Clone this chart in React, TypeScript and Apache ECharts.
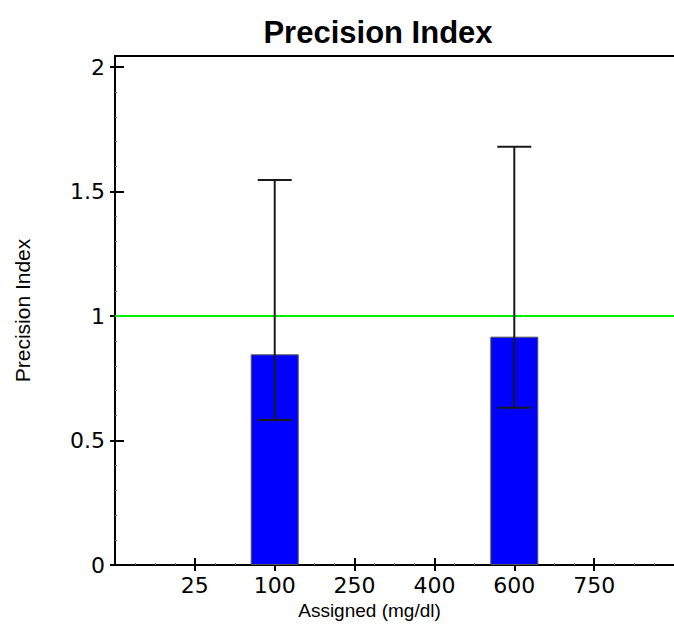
import React, { useEffect, useRef } from "react";
import * as echarts from "echarts";

// Data
const categories = ["25", "100", "250", "400", "600", "750"];
const precisionIndex = [null, 0.846, null, null, 0.917, null];
const lowerLimit = [null, 0.582, null, null, 0.632, null];
const upperLimit = [null, 1.546, null, null, 1.68, null];
const referenceLevel = 1;
const yTicks = [0, 0.5, 1, 1.5, 2];

export default function App() {
  const ref = useRef<HTMLDivElement>(null);

  useEffect(() => {
    if (!ref.current) return;
    const chart = echarts.init(ref.current, null, { renderer: "svg" });

    const barData: any[] = [];
    const errData: any[] = [];
    categories.forEach((_, i) => {
      const v = precisionIndex[i];
      if (v !== null) {
        barData.push([i + 1, v]);
        errData.push([i + 1, lowerLimit[i], upperLimit[i]]);
      }
    });
    const xPos = categories.map((_, i) => i + 1);

    const tickFont = { fontFamily: "DejaVu Sans", fontSize: 22, color: "#000" };
    const axisStroke = { color: "#000", width: 2 };

    const option: any = {
      animation: false,
      backgroundColor: "#fff",
      title: {
        text: "Precision Index",
        left: 373,
        textAlign: "center",
        top: 12,
        textStyle: { fontFamily: "Arial", fontWeight: "bold", fontSize: 31, color: "#000" },
      },
      grid: { left: 115, top: 56, width: 560, height: 509, containLabel: false },
      xAxis: [
        {
          type: "value",
          min: 0,
          max: 7,
          interval: 1,
          position: "bottom",
          name: "Assigned (mg/dl)",
          nameLocation: "middle",
          nameGap: 32,
          nameTextStyle: { fontFamily: "Arial", fontSize: 19, color: "#000", padding: [0, 50, 0, 0] },
          axisLine: { show: true, onZero: false, lineStyle: axisStroke },
          axisTick: { show: true, inside: true, length: 7, customValues: xPos, lineStyle: axisStroke },
          minorTick: { show: true, splitNumber: 4, length: 2, lineStyle: { color: "#666", width: 1 } },
          axisLabel: {
            ...tickFont,
            margin: 9,
            customValues: xPos,
            formatter: (v: number) => categories[Math.round(v) - 1] ?? "",
          },
          splitLine: { show: false },
        },
        {
          type: "value",
          min: 0,
          max: 7,
          interval: 1,
          position: "bottom",
          axisLine: { show: true, onZero: false, lineStyle: axisStroke },
          axisTick: { show: true, inside: false, length: 6, customValues: xPos, lineStyle: axisStroke },
          axisLabel: { show: false },
          splitLine: { show: false },
        },
        {
          type: "value",
          min: 0,
          max: 7,
          position: "top",
          axisLine: { show: true, onZero: false, lineStyle: axisStroke },
          axisTick: { show: false },
          axisLabel: { show: false },
          splitLine: { show: false },
        },
      ],
      yAxis: [
        {
          type: "value",
          min: 0,
          max: 2.0442,
          interval: 0.5,
          position: "left",
          name: "Precision Index",
          nameLocation: "middle",
          nameGap: 82,
          nameTextStyle: { fontFamily: "Arial", fontSize: 21, color: "#000" },
          axisLine: { show: true, onZero: false, lineStyle: axisStroke },
          axisTick: { show: true, inside: true, length: 9, customValues: yTicks, lineStyle: axisStroke },
          minorTick: { show: true, splitNumber: 5, length: 2, lineStyle: { color: "#666", width: 1 } },
          axisLabel: {
            ...tickFont,
            margin: 10,
            customValues: yTicks,
            formatter: (v: number) => String(v),
          },
          splitLine: { show: false },
        },
        {
          type: "value",
          min: 0,
          max: 2.0442,
          interval: 0.5,
          position: "left",
          axisLine: { show: true, onZero: false, lineStyle: axisStroke },
          axisTick: { show: true, inside: false, length: 5, customValues: yTicks, lineStyle: axisStroke },
          axisLabel: { show: false },
          splitLine: { show: false },
        },
      ],
      series: [
        {
          type: "bar",
          xAxisIndex: 0,
          yAxisIndex: 0,
          data: barData,
          barWidth: 48,
          itemStyle: { color: "#0000ff", borderColor: "#555", borderWidth: 1 },
          markLine: {
            silent: true,
            symbol: "none",
            label: { show: false },
            lineStyle: { color: "#00ee00", width: 2, type: "solid" },
            data: [{ yAxis: referenceLevel }],
            z: 3,
          },
          z: 2,
        },
        {
          type: "custom",
          xAxisIndex: 0,
          yAxisIndex: 0,
          data: errData,
          z: 5,
          renderItem: (params: any, api: any) => {
            const x = api.value(0);
            const lo = api.coord([x, api.value(1)]);
            const hi = api.coord([x, api.value(2)]);
            const hw = 17;
            const style = { stroke: "#1a1a1a", lineWidth: 2 };
            return {
              type: "group",
              children: [
                { type: "line", shape: { x1: lo[0], y1: lo[1], x2: hi[0], y2: hi[1] }, style },
                { type: "line", shape: { x1: lo[0] - hw, y1: lo[1], x2: lo[0] + hw, y2: lo[1] }, style },
                { type: "line", shape: { x1: hi[0] - hw, y1: hi[1], x2: hi[0] + hw, y2: hi[1] }, style },
              ],
            };
          },
        },
      ],
    };

    chart.setOption(option);
    return () => chart.dispose();
  }, []);

  return (
    <div
      ref={ref}
      style={{ position: "fixed", left: 0, top: 0, width: 674, height: 628, background: "#fff" }}
    />
  );
}
